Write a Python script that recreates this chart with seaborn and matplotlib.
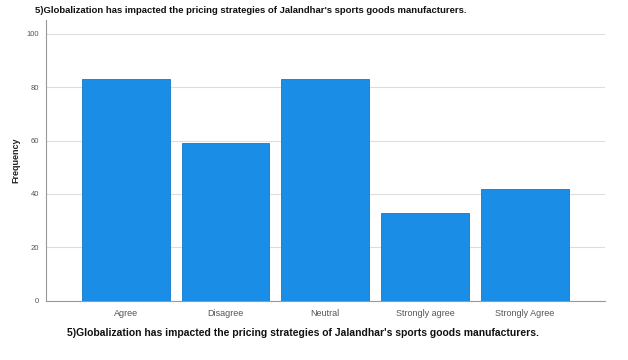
import matplotlib
matplotlib.use("Agg")
import matplotlib.pyplot as plt
import seaborn as sns
import pandas as pd

categories = ["Agree", "Disagree", "Neutral", "Strongly agree", "Strongly Agree"]
frequency = [83, 59, 83, 33, 42]
yticks = [0, 20, 40, 60, 80, 100]
title = "5)Globalization has impacted the pricing strategies of Jalandhar's sports goods manufacturers."

sns.set_theme(style="white")
plt.rcParams['font.family'] = ['Liberation Sans', 'DejaVu Sans']

df = pd.DataFrame({"cat": categories, "freq": frequency})

fig = plt.figure(figsize=(6.28, 3.6), dpi=100)
ax = fig.add_axes([0.073, 0.164, 0.890, 0.780])
sns.barplot(data=df, x="cat", y="freq", color="#1a8ee6", saturation=1, width=0.88,
            edgecolor="#1478c8", linewidth=0.6, ax=ax, zorder=3)

ax.set_xlim(-0.8, 4.8)
ax.set_ylim(0, 105)
ax.set_yticks(yticks)
ax.set_yticklabels([str(v) for v in yticks], fontsize=5.5, color="#555555")
ax.tick_params(axis="x", labelsize=6.5, colors="#555555", length=0, pad=6)
ax.tick_params(axis="y", length=3, width=0.6, color="#888888", pad=2)
ax.yaxis.grid(True, color="#dddddd", linewidth=0.8, zorder=0)
ax.set_axisbelow(True)
for s in ["top", "right"]:
    ax.spines[s].set_visible(False)
ax.spines["left"].set_color("#999999")
ax.spines["left"].set_linewidth(0.8)
ax.spines["bottom"].set_color("#999999")
ax.spines["bottom"].set_linewidth(0.8)

ax.set_ylabel("Frequency", fontsize=6.5, fontweight="bold", color="#222222", labelpad=4)
ax.set_xlabel("")
fig.text(0.483, 0.075, title, fontsize=7.5, fontweight="bold", color="#111111",
         ha="center", va="center")
fig.text(0.056, 0.972, title, fontsize=6.8, fontweight="bold", color="#111111",
         ha="left", va="center")

fig.savefig("out.png", dpi=100, facecolor="white")
